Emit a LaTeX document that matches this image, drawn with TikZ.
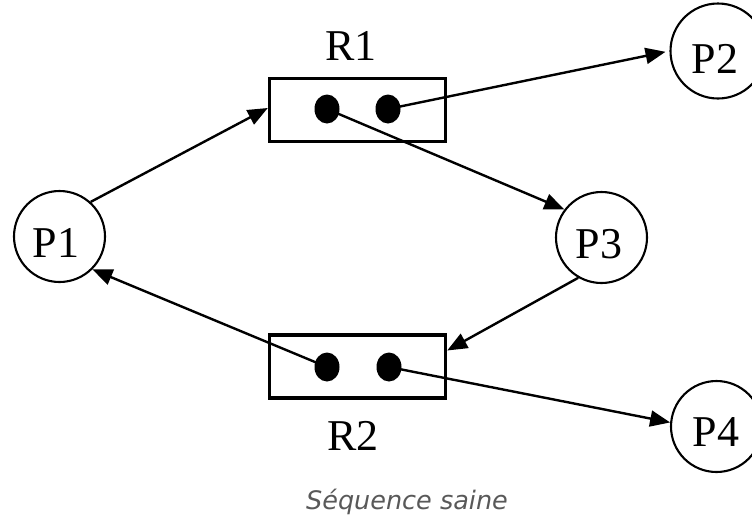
\documentclass[tikz,border=0pt]{standalone}
\usepackage{fontspec}
\setmainfont{Liberation Serif}
\newfontfamily\captionfont{DejaVu Sans}
\usetikzlibrary{arrows.meta,shapes.geometric}
\begin{document}
\begin{tikzpicture}[x=1pt,y=-1pt,
  proc/.style={circle,draw,line width=2.1pt,minimum size=91pt,inner sep=0pt},
  res/.style={rectangle,draw,line width=3.4pt,minimum width=176pt,minimum height=63pt,inner sep=0pt},
  token/.style={ellipse,fill=black,minimum width=25pt,minimum height=29pt,inner sep=0pt},
  lbl/.style={anchor=base,font=\fontsize{44}{48}\selectfont,inner sep=0pt},
  edge/.style={line width=2.4pt,-{Triangle[length=20pt,width=16pt]}}]
\useasboundingbox (0,0) rectangle (752,515);

% processes
\node[proc] (P1) at (59.5,236.5) {};
\node[proc,minimum size=95pt] (P2) at (718,51) {};
\node[proc] (P3) at (601.5,237.5) {};
\node[proc] (P4) at (716.5,426.5) {};
\node[lbl] (tP1) at (56,257) {P1};
\node[lbl] (tP2) at (715,73) {P2};
\node[lbl] (tP3) at (599,258) {P3};
\node[lbl] (tP4) at (716,446) {P4};

% resources with their instances
\node[res] (R1) at (357.5,110) {};
\node[res] (R2) at (357.5,366.5) {};
\node[lbl] (tR1) at (351,60) {R1};
\node[lbl] (tR2) at (353,450) {R2};
\node[token] (a1) at (327,109) {};
\node[token] (a2) at (388,109) {};
\node[token] (b1) at (327,367) {};
\node[token] (b2) at (389,367) {};

% requests and assignments
\draw[edge] (P1.48) -- ([yshift=2pt]R1.west);
\draw[edge,shorten >=4pt] (a2.center) -- (P2.west);
\draw[edge] (a1.center) -- (P3.143);
\draw[edge] (P3.240) -- ([yshift=16pt]R2.east);
\draw[edge] (b1.center) -- (P1.-45);
\draw[edge] (b2.center) -- (P4.175);

% caption
\node[anchor=base,inner sep=0pt,text=black!65,font=\captionfont\itshape\fontsize{25.5}{30}\selectfont] (cap) at (407,509) {Séquence saine};
\end{tikzpicture}
\end{document}
